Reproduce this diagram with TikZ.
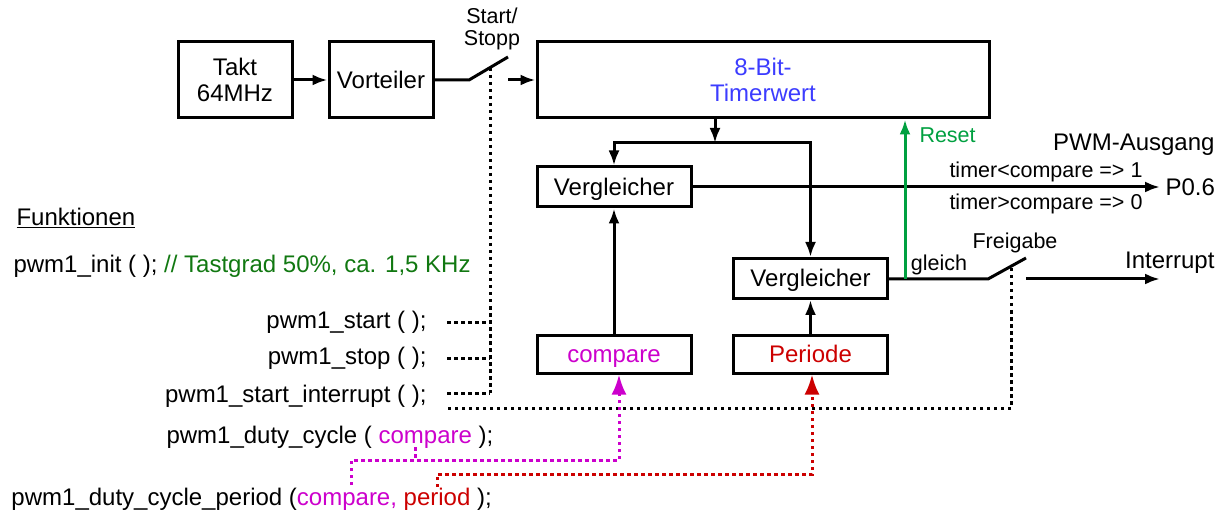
\documentclass[tikz,border=0pt]{standalone}
\usepackage{fontspec}
\setmainfont{Liberation Sans}
\usetikzlibrary{arrows.meta}
\definecolor{timerblue}{RGB}{60,60,255}
\definecolor{cmpmag}{RGB}{204,0,204}
\definecolor{perred}{RGB}{204,0,0}
\definecolor{rstgreen}{RGB}{0,160,64}
\definecolor{cmtgreen}{RGB}{17,120,17}

\begin{document}
\begin{tikzpicture}[x=1pt,y=-1pt,line width=3pt,
  blk/.style={draw,rectangle,inner sep=0pt,align=center,font=\fontsize{24}{26}\selectfont},
  oneline/.style={text height=17pt,text depth=0pt},
  txt/.style={inner sep=0pt,font=\fontsize{24}{26}\selectfont},
  sml/.style={inner sep=0pt,align=center,font=\fontsize{21.5}{22.5}\selectfont},
  arr/.style={-{Latex[length=15pt,width=11pt]}},
  bigtip/.style={-{Latex[length=20pt,width=15pt]}},
  dotline/.style={dash pattern=on 3.5pt off 3.5pt}]
\useasboundingbox (0,0) rectangle (1227,513);
% blocks
\node[blk,minimum width=114pt,minimum height=76pt] (takt)at(235,80){Takt\\64MHz};
\node[blk,oneline,minimum width=104pt,minimum height=76pt] (vort)at(381,80){Vorteiler};
\node[blk,minimum width=452pt,minimum height=76pt,text=timerblue] (timer)at(763,80){8-Bit-\\Timerwert};
\node[blk,oneline,minimum width=154pt,minimum height=40pt] (cmp1)at(614,187){Vergleicher};
\node[blk,oneline,minimum width=154pt,minimum height=40pt] (cmp2)at(810.5,278.5){Vergleicher};
\node[blk,oneline,minimum width=154pt,minimum height=38pt,text=cmpmag] (cmpreg)at(614,354){compare};
\node[blk,oneline,minimum width=154pt,minimum height=38pt,text=perred] (per)at(810.5,354){Periode};
% clock and start/stop switch
\coordinate (swa)at(469,80);
\coordinate (swb)at(508,57);
\coordinate (swc)at(508,80);
\coordinate (ssbus)at(490,68);
\coordinate (ssend)at(490,393);
\draw[arr] (takt) -- (vort);
\draw (vort) -- (swa) -- (swb);
\draw[arr] (swc) -- (timer);
\node[sml] (ss)at(492,29){Start/\\Stopp};
% timer to comparators
\coordinate (split)at(715,143);
\draw[arr] (timer.south -| split) -- (split);
\draw[arr] (split) -| (cmp1);
\draw[arr] (split) -| (cmp2);
\draw[arr] (cmpreg) -- (cmp1);
\draw[arr] (per) -- (cmp2);
% PWM output
\node[txt,anchor=west] (p06)at(1164,187){P0.6};
\draw[arr,shorten >=4pt] (cmp1) -- (p06);
\node[txt,anchor=east] (pwmout)at(1216,145){PWM-Ausgang};
\node[sml] (lt1)at(1046,172){timer<compare => 1};
\node[sml] (lt0)at(1046,204){timer>compare => 0};
% interrupt and reset
\coordinate (fra)at(988,279);
\coordinate (frb)at(1026,258);
\coordinate (frc)at(1026,279);
\coordinate (intend)at(1160,279);
\coordinate (frgdot)at(1011,268);
\coordinate (frgend)at(447,408);
\coordinate (rst)at(905,279);
\draw (cmp2.east |- fra) -- (fra) -- (frb);
\draw[arr] (frc) -- (intend);
\draw[arr,rstgreen] (rst) -- (rst |- timer.south);
\node[sml,anchor=west,text=rstgreen] (rstl)at(918,135){Reset};
\node[sml] (gl)at(939,265){gleich};
\node[sml] (frg)at(1015,243){Freigabe};
\node[txt,anchor=east] (intr)at(1216,263){Interrupt};
% functions
\node[txt,anchor=base west] (funk)at(15,226){\underline{Funktionen}};
\node[txt,anchor=west] (finit)at(12,266){pwm1\_init ( ); \textcolor{cmtgreen}{// Tastgrad 50\%, ca. 1,5 KHz}};
\node[txt,anchor=east] (fstart)at(428,322){pwm1\_start ( );};
\node[txt,anchor=east] (fstop)at(428,358){pwm1\_stop ( );};
\node[txt,anchor=east] (fsint)at(428,396){pwm1\_start\_interrupt ( );};
\node[txt,anchor=west] (fduty)at(165,437){pwm1\_duty\_cycle ( \textcolor{cmpmag}{compare} );};
\node[txt,anchor=west] (fdutyp)at(10,499){pwm1\_duty\_cycle\_period (\textcolor{cmpmag}{compare,} \textcolor{perred}{period} );};
% dotted control lines
\draw[dotline] (ssbus) -- (ssend);
\draw[dotline] (fstart.east) ++(19,0) -- (fstart.east -| ssbus);
\draw[dotline] (fstop.east) ++(19,0) -- (fstop.east -| ssbus);
\draw[dotline] (fsint.east |- ssend) ++(19,0) -- (ssend);
\draw[dotline] (frgdot) |- (frgend);
\coordinate (magA)at(351,485);
\coordinate (magB)at(415,447);
\coordinate (magC)at(619,460);
\coordinate (redA)at(437,487);
\coordinate (redC)at(812,474);
\draw[dotline,cmpmag,bigtip] (magA) |- (magC) -- (magC |- cmpreg.south);
\draw[dotline,cmpmag] (magB) -- (magB |- magC);
\draw[dotline,perred,bigtip] (redA) |- (redC) -- (redC |- per.south);
\end{tikzpicture}
\end{document}
